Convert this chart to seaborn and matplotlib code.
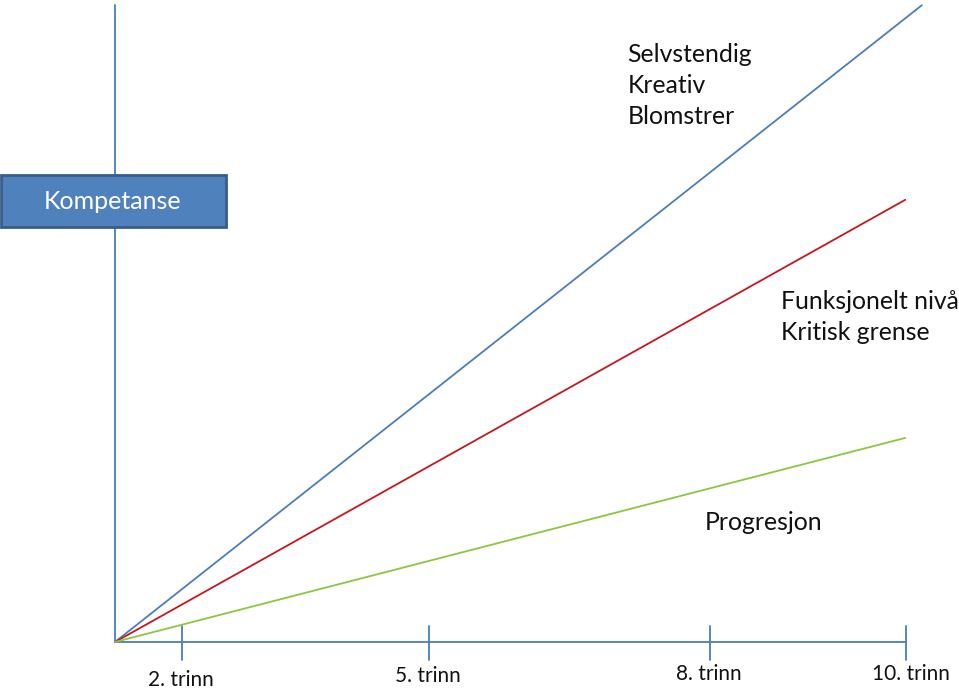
import matplotlib
matplotlib.use("Agg")
import matplotlib.pyplot as plt
import seaborn as sns
import pandas as pd
from matplotlib.patches import FancyBboxPatch

sns.set_theme(style="white")
plt.rcParams['font.family'] = ['Lato', 'DejaVu Sans']

# data (units: x axis end = 100)
grade_labels = ["2. trinn", "5. trinn", "8. trinn", "10. trinn"]
grade_pos = [8.5, 39.7, 75.2, 100.0]
series = ["Selvstendig", "Funksjonelt", "Progresjon"]
end_x = [102.0, 99.9, 99.9]
end_y = [80.5, 55.9, 25.8]
colors = ["#4A7EBB", "#C8161D", "#8DC63F"]

rows = []
for s, ex, ey in zip(series, end_x, end_y):
    rows.append({"serie": s, "x": 0.0, "y": 0.0})
    rows.append({"serie": s, "x": ex, "y": ey})
df = pd.DataFrame(rows)

W, H = 959, 689
scale = 7.91
x0_px, y0_px = 115, 642

fig = plt.figure(figsize=(W / 100, H / 100), dpi=100)
ax = fig.add_axes([0, 0, 1, 1])
ax.set_xlim(-x0_px / scale, (W - x0_px) / scale)
ax.set_ylim(-(H - y0_px) / scale, y0_px / scale)
ax.axis("off")

axis_col = "#4A7EBB"
# axes lines
ax.plot([0, 0], [0, 80.5], color=axis_col, lw=1.3, zorder=1)
ax.plot([0, 100.0], [0, 0], color=axis_col, lw=1.3, zorder=1)
for gx in grade_pos:
    ax.plot([gx, gx], [-2.25, 2.05], color=axis_col, lw=1.3)

sns.lineplot(data=df, x="x", y="y", hue="serie", palette=colors,
             hue_order=series, ax=ax, legend=False, lw=1.3, zorder=2)

# tick labels
label_y = [-4.8, -4.25, -4.0, -4.0]
label_x = [8.3, 39.6, 75.1, 100.6]
for lab, lx, ly in zip(grade_labels, label_x, label_y):
    ax.text(lx, ly, lab, ha="center", va="center", fontsize=15, color="#111111")

# annotations
fs = 17.8
ax.text(64.8, 70.4, "Selvstendig\nKreativ\nBlomstrer", ha="left", va="center",
        fontsize=fs, linespacing=1.42, color="#111111")
ax.text(84.2, 41.1, "Funksjonelt nivå\nKritisk grense", ha="left", va="center",
        fontsize=fs, linespacing=1.38, color="#111111")
ax.text(74.6, 15.1, "Progresjon", ha="left", va="center", fontsize=fs, color="#111111")

# Kompetanse box
bx0, bx1 = -x0_px / scale, (226 - x0_px) / scale
by0, by1 = (y0_px - 227) / scale, (y0_px - 175) / scale
box = FancyBboxPatch((bx0 + 0.15, by0), bx1 - bx0 - 0.15, by1 - by0,
                     boxstyle="square,pad=0", facecolor="#4F81BD",
                     edgecolor="#385D8A", lw=2, zorder=3)
ax.add_patch(box)
ax.text((bx0 + bx1) / 2, (by0 + by1) / 2 - 0.1, "Kompetanse", ha="center", va="center",
        fontsize=18, color="white", zorder=4)

fig.savefig("out.png", dpi=100)
